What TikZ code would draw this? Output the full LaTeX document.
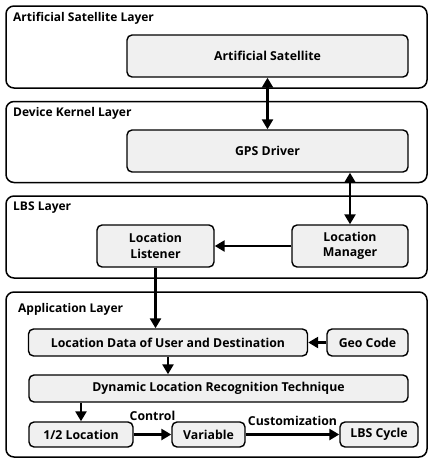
\documentclass[tikz,border=0pt]{standalone}
\usepackage{fontspec}
\setmainfont{Open Sans}
\usetikzlibrary{arrows.meta,positioning,calc}
\definecolor{boxfill}{RGB}{240,240,240}
\tikzset{
  layer/.style={draw=black,line width=1.5pt,rounded corners=8pt,fill=white,inner sep=0pt},
  layertitle/.style={anchor=west,font=\bfseries\fontsize{12}{13}\selectfont,inner sep=0pt},
  comp/.style={draw=black,line width=1.4pt,rounded corners=5pt,fill=boxfill,inner sep=0pt,
               font=\bfseries\fontsize{12.3}{15.5}\selectfont,align=center},
  flow/.style={-{Triangle[length=10pt,width=11pt]},line width=2.4pt},
  twoway/.style={{Triangle[length=10pt,width=11pt]}-{Triangle[length=10pt,width=11pt]},line width=2.4pt},
  tag/.style={font=\bfseries\fontsize{12.3}{13}\selectfont,inner sep=1pt},
}
\begin{document}
\begin{tikzpicture}[x=1pt,y=-1pt]
  \useasboundingbox (0,0) rectangle (428,458);
  % layers
  \node[layer,minimum width=421pt,minimum height=82pt] (laysat) at (216.5,47) {};
  \node[layer,minimum width=421pt,minimum height=81pt] (laykern) at (216.5,142) {};
  \node[layer,minimum width=421pt,minimum height=82pt] (laylbs) at (216.5,237) {};
  \node[layer,minimum width=421pt,minimum height=165pt] (layapp) at (216.5,374.5) {};
  \node[layertitle] at (13,18) {Artificial Satellite Layer};
  \node[layertitle] at (13,113) {Device Kernel Layer};
  \node[layertitle] at (13,208) {LBS Layer};
  \node[layertitle] at (18,309) {Application Layer};
  % components
  \node[comp,minimum width=281pt,minimum height=42pt] (sat) at (267.5,56) {Artificial Satellite};
  \node[comp,minimum width=281pt,minimum height=42pt] (gps) at (267.5,151) {GPS Driver};
  \node[comp,minimum width=117pt,minimum height=42pt] (lis) at (155.5,246) {Location\\Listener};
  \node[comp,minimum width=116pt,minimum height=42pt] (mgr) at (350,246) {Location\\Manager};
  \node[comp,minimum width=279pt,minimum height=27pt] (data) at (168,342.5) {Location Data of User and Destination};
  \node[comp,minimum width=81pt,minimum height=27pt] (geo) at (367.5,342.5) {Geo Code};
  \node[comp,minimum width=379pt,minimum height=27pt] (dyn) at (218.5,388.5) {Dynamic Location Recognition Technique};
  \node[comp,minimum width=104pt,minimum height=25pt] (half) at (81,434.5) {1/2 Location};
  \node[comp,minimum width=73pt,minimum height=25pt] (var) at (208.5,434.5) {Variable};
  \node[comp,minimum width=78pt,minimum height=25pt] (cyc) at (379,434.5) {LBS Cycle};
  % connections
  \draw[twoway] (sat.south) -- (gps.north);
  \draw[twoway] (gps.south -| mgr) -- (mgr.north);
  \draw[flow] (mgr.west) -- (lis.east);
  \draw[flow] (lis.south) -- (lis.south |- data.north);
  \draw[flow] (geo.west) -- (data.east);
  \draw[flow] (data.south) -- (data.south |- dyn.north);
  \draw[flow] (dyn.south -| half) -- (half.north);
  \draw[flow] (half.east) -- node[tag,above=12pt] {Control} (var.west);
  \draw[flow] (var.east) -- node[tag,above=7pt] {Customization} (cyc.west);
\end{tikzpicture}
\end{document}
